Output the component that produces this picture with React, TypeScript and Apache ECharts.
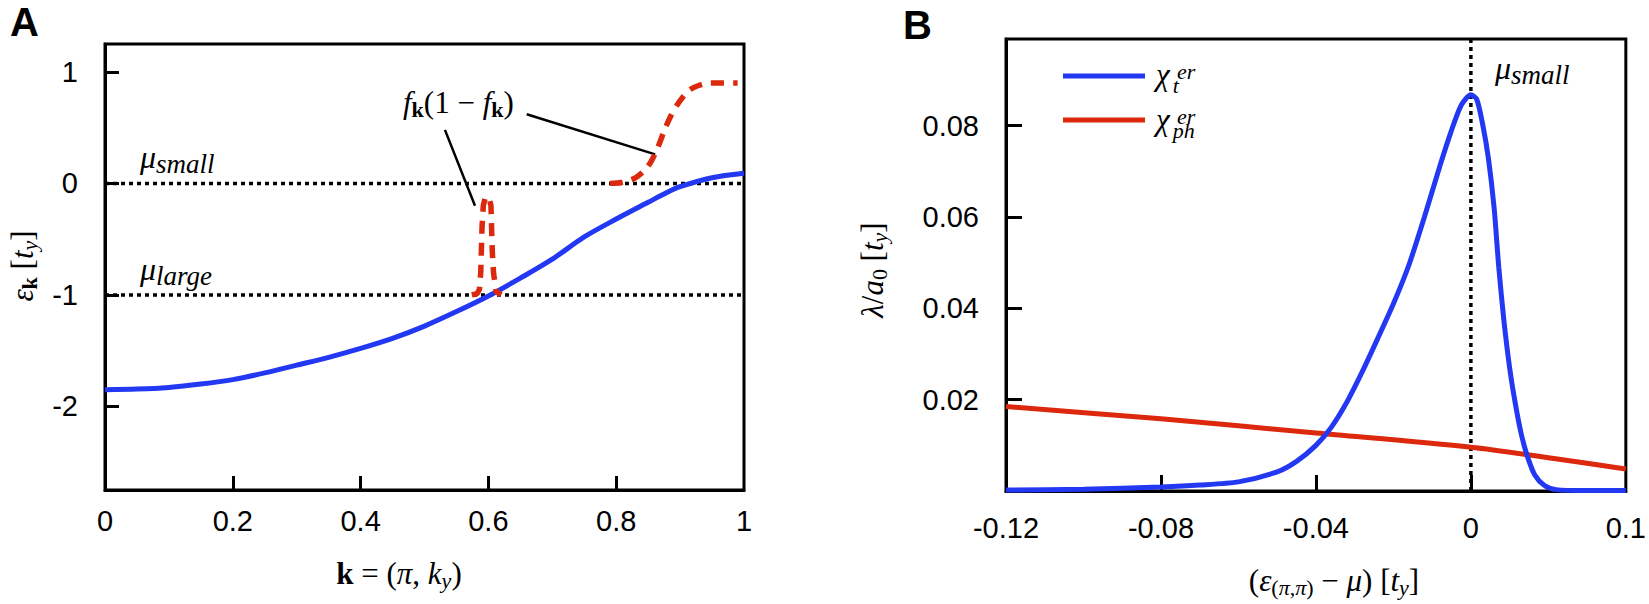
import React, { useEffect, useRef } from "react";
import * as echarts from "echarts";

// ---------- Panel A data ----------
const kA = [0, 0.05, 0.1, 0.15, 0.2, 0.25, 0.3, 0.35, 0.4, 0.45, 0.5, 0.55, 0.6, 0.65, 0.7, 0.75, 0.8, 0.85, 0.88, 0.9, 0.95, 1];
const epsA = [-1.85, -1.845, -1.83, -1.8, -1.76, -1.7, -1.63, -1.56, -1.48, -1.39, -1.28, -1.15, -1.01, -0.85, -0.68, -0.48, -0.32, -0.17, -0.08, -0.03, 0.05, 0.09];

const peakK = [0.574, 0.582, 0.586, 0.588, 0.589, 0.59, 0.592, 0.595, 0.598, 0.601, 0.604, 0.605, 0.606, 0.608, 0.612, 0.62];
const peakV = [-1.0, -0.99, -0.95, -0.8, -0.6, -0.4, -0.2, -0.13, -0.12, -0.13, -0.2, -0.4, -0.6, -0.8, -0.97, -1.0];

const sigK = [0.79, 0.81, 0.83, 0.845, 0.855, 0.865, 0.875, 0.885, 0.895, 0.905, 0.915, 0.93, 0.945, 0.96, 0.99];
const sigV = [0.0, 0.01, 0.05, 0.12, 0.2, 0.32, 0.47, 0.6, 0.7, 0.78, 0.84, 0.88, 0.9, 0.9, 0.9];

const muSmallA = 0;
const muLargeA = -1;
const callout1 = [[0.532, 0.48], [0.579, -0.2]];
const callout2 = [[0.66, 0.62], [0.861, 0.26]];

const xTicksA = [0, 0.2, 0.4, 0.6, 0.8, 1];
const xInnerTicksA = [0.2, 0.4, 0.6, 0.8];
const yTicksA = [-2, -1, 0, 1];

// ---------- Panel B data ----------
const xB = [-0.12, -0.1, -0.08, -0.07, -0.06, -0.05, -0.045, -0.04, -0.036, -0.032, -0.028, -0.024, -0.02, -0.016, -0.012, -0.008, -0.005, -0.0025, 0, 0.0015, 0.003, 0.0045, 0.006, 0.0072, 0.0085, 0.01, 0.0115, 0.013, 0.0145, 0.0165, 0.019, 0.022, 0.03, 0.04];
const chiT = [0.0002, 0.0004, 0.0009, 0.0013, 0.002, 0.0042, 0.0065, 0.01, 0.014, 0.0195, 0.0262, 0.0335, 0.041, 0.0495, 0.06, 0.0712, 0.079, 0.0845, 0.0868, 0.0858, 0.0805, 0.073, 0.062, 0.049, 0.0375, 0.027, 0.019, 0.0125, 0.0078, 0.0035, 0.0012, 0.0003, 0.0001, 0.0001];

const xPh = [-0.12, -0.08, -0.04, 0, 0.02, 0.04];
const chiPh = [0.0185, 0.0158, 0.0127, 0.0096, 0.0073, 0.0048];

const xTicksB = [-0.12, -0.08, -0.04, 0, 0.04];
const xLabelsB = ["-0.12", "-0.08", "-0.04", "0", "0.1"];
const xInnerTicksB = [-0.08, -0.04, 0];
const yTicksB = [0.02, 0.04, 0.06, 0.08];

const BLUE = "#2338f2";
const RED = "#dc280c";
const SANS = "Liberation Sans";
const SERIF = "Liberation Serif";

const pairs = (xs: number[], ys: number[]) => xs.map((x, i) => [x, ys[i]]);

const MAIN = 31;
const SUB = 22;
const rich: any = {
  r: { fontFamily: SERIF, fontSize: MAIN, fill: "#000" },
  i: { fontFamily: SERIF, fontSize: MAIN, fontStyle: "italic", fill: "#000" },
  b: { fontFamily: SERIF, fontSize: MAIN, fontWeight: "bold", fill: "#000" },
  is: { fontFamily: SERIF, fontSize: SUB, fontStyle: "italic", fill: "#000", padding: [15, 0, 0, 0] },
  bs: { fontFamily: SERIF, fontSize: SUB, fontWeight: "bold", fill: "#000", padding: [15, 0, 0, 0] },
  rs: { fontFamily: SERIF, fontSize: SUB, fill: "#000", padding: [15, 0, 0, 0] },
  m: { fontFamily: SERIF, fontSize: 32, fontStyle: "italic", fill: "#000" },
  ms: { fontFamily: SERIF, fontSize: 27, fontStyle: "italic", fill: "#000", padding: [13, 0, 0, 0] },
  // legend: chi with stacked superscript / subscript (two lines in one text)
  lsup: { fontFamily: SERIF, fontSize: 22, fontStyle: "italic", fill: "#000", lineHeight: 2, padding: [0, 0, 0, 21] },
  lc: { fontFamily: SERIF, fontSize: 31, fontStyle: "italic", fill: "#000", lineHeight: 20, padding: [0, 0, 16, 0] },
  lsub: { fontFamily: SERIF, fontSize: 22, fontStyle: "italic", fill: "#000", lineHeight: 20, padding: [6, 0, 0, 3] },
};

const txt = (x: number, y: number, text: string, extra: any = {}) => ({
  type: "text",
  x,
  y,
  rotation: extra.rotation || 0,
  style: {
    text,
    rich,
    align: extra.align || "left",
    verticalAlign: "middle",
    fill: "#000",
    fontFamily: SERIF,
    fontSize: MAIN,
  },
});

const axisLabelStyle = { color: "#000", fontFamily: SANS, fontSize: 29 };
const axisLine = { show: true, onZero: false, lineStyle: { color: "#000", width: 3 } };

export default function App() {
  const ref = useRef<HTMLDivElement>(null);
  useEffect(() => {
    const chart = echarts.init(ref.current!, null, { renderer: "svg" });
    const option: any = {
      animation: false,
      backgroundColor: "#fff",
      grid: [
        { left: 105, top: 44, width: 639, height: 446, show: true, borderColor: "#000", borderWidth: 3, backgroundColor: "transparent" },
        { left: 1006, top: 39, width: 625, height: 452, show: true, borderColor: "#000", borderWidth: 3, backgroundColor: "transparent" },
      ],
      xAxis: [
        {
          type: "value",
          gridIndex: 0,
          min: 0,
          max: 1,
          axisLine,
          axisTick: { show: true, inside: true, length: 14, customValues: xInnerTicksA, lineStyle: { color: "#000", width: 3 } },
          axisLabel: { ...axisLabelStyle, margin: 16, customValues: xTicksA },
          splitLine: { show: false },
        },
        {
          type: "value",
          gridIndex: 1,
          min: -0.12,
          max: 0.04,
          axisLine,
          axisTick: { show: true, inside: true, length: 16, customValues: xInnerTicksB, lineStyle: { color: "#000", width: 3 } },
          axisLabel: {
            ...axisLabelStyle,
            margin: 22,
            customValues: xTicksB,
            formatter: (v: number) => {
              const i = xTicksB.findIndex((t) => Math.abs(t - v) < 1e-9);
              return i >= 0 ? xLabelsB[i] : "";
            },
          },
          splitLine: { show: false },
        },
      ],
      yAxis: [
        {
          type: "value",
          gridIndex: 0,
          min: -2.75,
          max: 1.25,
          axisLine,
          axisTick: { show: true, inside: true, length: 14, customValues: yTicksA, lineStyle: { color: "#000", width: 3 } },
          axisLabel: { ...axisLabelStyle, margin: 27, customValues: yTicksA },
          splitLine: { show: false },
        },
        {
          type: "value",
          gridIndex: 1,
          min: 0,
          max: 0.099,
          axisLine,
          axisTick: { show: true, inside: true, length: 16, customValues: yTicksB, lineStyle: { color: "#000", width: 3 } },
          axisLabel: { ...axisLabelStyle, margin: 27, customValues: yTicksB },
          splitLine: { show: false },
        },
      ],
      series: [
        {
          name: "mu_small",
          type: "line",
          xAxisIndex: 0,
          yAxisIndex: 0,
          data: [[0, muSmallA], [1, muSmallA]],
          symbol: "none",
          lineStyle: { color: "#000", width: 3.5, type: [4, 4] },
        },
        {
          name: "mu_large",
          type: "line",
          xAxisIndex: 0,
          yAxisIndex: 0,
          data: [[0, muLargeA], [1, muLargeA]],
          symbol: "none",
          lineStyle: { color: "#000", width: 3.5, type: [4, 4] },
        },
        {
          name: "callout1",
          type: "line",
          xAxisIndex: 0,
          yAxisIndex: 0,
          data: callout1,
          symbol: "none",
          lineStyle: { color: "#000", width: 2.5 },
        },
        {
          name: "callout2",
          type: "line",
          xAxisIndex: 0,
          yAxisIndex: 0,
          data: callout2,
          symbol: "none",
          lineStyle: { color: "#000", width: 2.5 },
        },
        {
          name: "eps",
          type: "line",
          xAxisIndex: 0,
          yAxisIndex: 0,
          data: pairs(kA, epsA),
          symbol: "none",
          smooth: 0.3,
          lineStyle: { color: BLUE, width: 5 },
        },
        {
          name: "fk_peak",
          type: "line",
          xAxisIndex: 0,
          yAxisIndex: 0,
          data: pairs(peakK, peakV),
          symbol: "none",
          lineStyle: { color: RED, width: 5.5, type: [13, 9] },
        },
        {
          name: "fk_sig",
          type: "line",
          xAxisIndex: 0,
          yAxisIndex: 0,
          data: pairs(sigK, sigV),
          symbol: "none",
          smooth: 0.3,
          lineStyle: { color: RED, width: 5.5, type: [13, 9] },
        },
        {
          name: "mu_small_B",
          type: "line",
          xAxisIndex: 1,
          yAxisIndex: 1,
          data: [[0, 0], [0, 0.099]],
          symbol: "none",
          lineStyle: { color: "#000", width: 3.5, type: [4, 4] },
        },
        {
          name: "chi_ph",
          type: "line",
          xAxisIndex: 1,
          yAxisIndex: 1,
          data: pairs(xPh, chiPh),
          symbol: "none",
          smooth: 0.3,
          lineStyle: { color: RED, width: 5 },
        },
        {
          name: "chi_t",
          type: "line",
          xAxisIndex: 1,
          yAxisIndex: 1,
          data: pairs(xB, chiT),
          symbol: "none",
          smooth: 0.25,
          lineStyle: { color: BLUE, width: 5 },
        },
      ],
      graphic: [
        { type: "text", x: 10, y: 2, style: { text: "A", fontFamily: SANS, fontWeight: "bold", fontSize: 40, fill: "#000" } },
        { type: "text", x: 903, y: 5, style: { text: "B", fontFamily: SANS, fontWeight: "bold", fontSize: 40, fill: "#000" } },
        // Panel A annotations
        txt(140, 157, "{m|μ}{ms|small}"),
        txt(140, 269, "{m|μ}{ms|large}"),
        txt(403, 102, "{i|f}{bs|k}{r|(1 − }{i|f}{bs|k}{r|)}"),
        txt(399, 573, "{b|k}{r| = (}{i|π}{r|, }{i|k}{is|y}{r|)}", { align: "center" }),
        txt(22, 266, "{i|ε}{bs|k}{r| [}{i|t}{is|y}{r|]}", { align: "center", rotation: Math.PI / 2 }),
        // Panel B annotations
        txt(1495, 68, "{m|μ}{ms|small}"),
        txt(1334, 580, "{r|(}{i|ε}{rs|(}{is|π}{rs|,}{is|π}{rs|)}{r| − }{i|μ}{r|)}{r| [}{i|t}{is|y}{r|]}", { align: "center" }),
        txt(872, 270, "{i|λ}{r|/}{i|a}{rs|0}{r| [}{i|t}{is|y}{r|]}", { align: "center", rotation: Math.PI / 2 }),
        // Legend (panel B)
        { type: "line", shape: { x1: 1063, y1: 76, x2: 1145, y2: 76 }, style: { stroke: BLUE, lineWidth: 5 } },
        { type: "line", shape: { x1: 1063, y1: 120, x2: 1145, y2: 120 }, style: { stroke: RED, lineWidth: 5 } },
        txt(1156, 81, "{lsup|er}\n{lc|χ}{lsub|t}"),
        txt(1156, 126, "{lsup|er}\n{lc|χ}{lsub|ph}"),
      ],
    };
    chart.setOption(option);
    return () => chart.dispose();
  }, []);
  return <div ref={ref} style={{ position: "absolute", left: 0, top: 0, width: 1649, height: 604 }} />;
}
